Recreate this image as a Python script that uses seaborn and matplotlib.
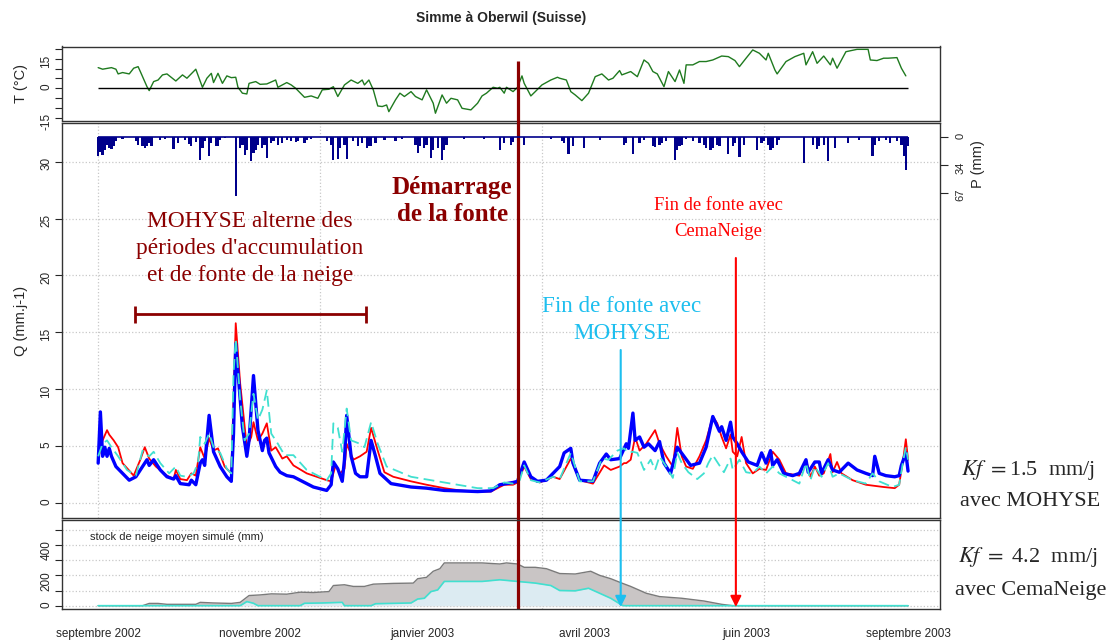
import matplotlib
matplotlib.use('Agg')
import matplotlib.pyplot as plt
import matplotlib.transforms as mtransforms
import seaborn as sns

FIG_W, FIG_H = 1120, 640

# x axis: day index 0..365 (sept 2002 -> sept 2003), labels at equal spacing
N_DAYS = 365
DATE_LABELS = ['septembre 2002', 'novembre 2002', 'janvier 2003',
               'avril 2003', 'juin 2003', 'septembre 2003']

# air temperature (deg C)
T_DAYS = [0, 2, 6, 8, 9, 11, 14, 16, 18, 19, 22, 23, 25, 27, 29, 31, 35, 38, 40, 44,
          47, 49, 51, 52, 54, 56, 58, 60, 62, 63, 65, 67, 68, 71, 73, 76, 80, 81, 85, 87,
          89, 93, 96, 99, 101, 104, 106, 108, 111, 114, 117, 119, 120, 122, 124, 126, 128,
          130, 131, 134, 136, 138, 141, 143, 146, 148, 151, 152, 155, 157, 159, 162, 164,
          168, 171, 173, 175, 178, 180, 181, 183, 184, 187, 189, 191, 192, 195, 197, 200,
          204, 207, 208, 211, 213, 215, 218, 221, 224, 227, 230, 232, 235, 236, 240, 243,
          246, 248, 250, 252, 255, 257, 260, 262, 264, 265, 268, 271, 274, 277, 281, 284,
          287, 289, 292, 295, 298, 301, 302, 305, 306, 310, 314, 318, 319, 322, 324, 327,
          330, 331, 333, 337, 342, 347, 348, 351, 354, 356, 360, 362, 364]
T_VALUES = [10.5, 9.7, 10.5, 9.7, 7.3, 8.0, 7.3, 10.2, 11.0, 8.5, 0.8, -1.2, 3.4, 4.2, 6.8,
            7.3, 3.7, 6.8, 5.1, 9.7, 0.5, 5.1, 7.6, 2.9, 7.6, 2.5, 6.3, 5.4, 5.6, 0.5, -2.5,
            -2.9, 2.5, 3.4, 2.0, 2.2, 4.2, 0.5, 2.9, 1.7, 0.0, -4.6, -3.9, -5.1, -0.8, -0.5,
            0.8, -4.2, 1.7, 4.2, 2.5, 4.2, 1.7, 4.2, -0.8, -9.0, -9.3, -8.5, -11.9, -5.9,
            -2.5, -4.2, -1.7, -4.2, -5.9, -0.8, -7.6, -12.7, -3.4, -7.6, -5.1, -5.9, -10.2,
            -11.0, -7.6, -3.9, -2.5, 0.5, 0.0, 0.5, -2.5, 0.5, -1.7, 0.5, 6.3, 2.5, -3.9,
            -1.7, 1.7, 4.2, 5.6, 5.1, 4.2, -1.7, -3.4, -6.3, -2.5, 5.9, 7.3, 4.2, 5.1, 9.0,
            6.8, 8.5, 5.9, 14.4, 12.7, 8.5, 7.3, 0.8, 8.5, 3.4, 9.3, 2.5, 11.9, 11.9, 13.6,
            13.6, 14.4, 16.4, 16.1, 14.1, 11.0, 15.3, 19.5, 17.8, 14.4, 17.8, 9.3, 7.3, 13.6,
            16.1, 17.8, 11.9, 18.6, 12.7, 16.4, 11.9, 15.3, 10.2, 18.6, 19.8, 19.8, 14.4,
            14.1, 15.3, 15.3, 15.6, 10.2, 6.3]

# daily precipitation (mm), non-zero days only
P_DAYS = [0, 1, 2, 3, 4, 5, 6, 7, 8, 11, 17, 18, 20, 21, 22, 23, 24, 28, 30, 34, 36, 39,
          41, 42, 44, 46, 47, 48, 50, 51, 53, 54, 55, 57, 62, 64, 65, 66, 67, 69, 70, 71,
          72, 74, 75, 76, 78, 79, 81, 83, 85, 87, 89, 90, 93, 94, 96, 103, 105, 106, 108,
          109, 111, 112, 115, 117, 119, 121, 122, 123, 125, 129, 134, 137, 143, 144, 145,
          147, 148, 150, 151, 153, 155, 156, 157, 165, 174, 181, 183, 186, 187, 192, 204,
          209, 210, 212, 214, 219, 226, 237, 238, 241, 244, 246, 250, 251, 253, 254, 256,
          260, 261, 262, 263, 265, 268, 271, 273, 274, 276, 277, 279, 280, 284, 286, 287,
          289, 291, 297, 299, 300, 302, 303, 304, 306, 307, 318, 322, 324, 325, 327, 329,
          332, 338, 343, 349, 350, 352, 355, 357, 360, 362, 363, 364, 365]
P_VALUES = [22, 18, 21, 15, 9, 13, 14, 10, 5, 2, 5, 9, 11, 13, 11, 7, 11, 3, 2, 14, 7, 3,
            8, 11, 6, 27, 13, 5, 22, 7, 10, 11, 3, 1, 71, 13, 9, 21, 15, 29, 19, 15, 9, 13,
            9, 25, 7, 5, 9, 7, 3, 5, 6, 5, 7, 3, 2, 5, 9, 27, 26, 13, 9, 26, 5, 11, 7, 13,
            11, 11, 7, 3, 5, 2, 9, 19, 11, 13, 9, 25, 15, 13, 28, 15, 9, 2, 2, 15, 7, 9, 6,
            9, 2, 5, 7, 20, 11, 13, 3, 9, 7, 20, 7, 3, 10, 12, 9, 7, 4, 27, 15, 11, 9, 2, 5,
            7, 9, 13, 15, 13, 9, 11, 20, 11, 7, 24, 9, 15, 7, 5, 9, 15, 13, 9, 3, 31, 9, 14,
            11, 9, 29, 13, 7, 3, 22, 9, 5, 3, 7, 5, 9, 23, 40, 11]
P_TICKS = [0, 34, 67]

# discharge (mm/j): observed (blue), CemaNeige (red), MOHYSE (turquoise)
QOBS_DAYS = [0, 1, 2, 3, 4, 5, 6, 8, 11, 14, 17, 20, 22, 23, 25, 28, 31, 34, 35, 37, 41,
             42, 44, 46, 47, 48, 50, 52, 55, 58, 60, 61, 62, 65, 67, 68, 70, 72, 74, 75,
             76, 77, 80, 82, 85, 88, 91, 97, 103, 105, 106, 108, 110, 111, 112, 114, 116,
             118, 121, 123, 125, 127, 132, 141, 148, 156, 163, 171, 177, 181, 184, 187,
             189, 192, 195, 198, 202, 205, 208, 210, 213, 214, 217, 223, 226, 229, 231,
             235, 238, 239, 241, 242, 244, 246, 248, 251, 253, 255, 258, 261, 264, 267,
             271, 274, 277, 280, 281, 283, 285, 286, 288, 290, 293, 297, 299, 301, 303,
             304, 306, 309, 313, 316, 319, 320, 323, 325, 326, 329, 331, 334, 338, 342,
             346, 349, 350, 352, 355, 359, 361, 362, 364, 365]
QOBS_VALUES = [3.5, 8.0, 4.1, 4.9, 4.1, 4.8, 4.1, 3.2, 2.6, 2.0, 2.3, 3.2, 3.8, 3.3, 3.8,
               2.9, 2.3, 2.1, 2.4, 1.7, 1.6, 2.0, 1.6, 3.5, 3.8, 3.3, 7.7, 4.5, 3.2, 2.3,
               1.9, 6.1, 14.0, 6.7, 4.1, 5.5, 11.2, 6.4, 4.6, 5.5, 5.7, 4.4, 3.2, 2.7, 2.4,
               2.3, 2.0, 1.4, 1.1, 1.6, 3.6, 3.0, 1.9, 3.8, 7.7, 4.1, 2.6, 2.3, 2.3, 5.5,
               4.1, 2.6, 1.7, 1.4, 1.3, 1.1, 1.06, 1.0, 1.06, 1.6, 1.7, 1.8, 1.9, 3.6, 2.3,
               1.9, 2.0, 2.6, 3.2, 4.4, 4.8, 3.5, 2.0, 1.9, 3.5, 4.3, 3.8, 3.9, 5.2, 4.8,
               7.9, 5.5, 5.8, 4.9, 5.2, 4.6, 5.4, 3.5, 2.6, 4.9, 4.1, 3.3, 3.5, 4.9, 7.6,
               6.3, 6.7, 5.5, 7.1, 5.8, 5.2, 4.5, 3.6, 3.3, 4.4, 3.5, 4.6, 3.3, 3.8, 2.6,
               2.4, 2.6, 3.8, 2.7, 3.6, 3.6, 2.6, 3.8, 2.9, 2.7, 3.5, 2.9, 2.6, 2.4, 4.1,
               2.6, 2.4, 2.3, 2.4, 3.3, 4.4, 2.8]
QCEMA_DAYS = [0, 2, 4, 5, 7, 9, 11, 16, 19, 21, 23, 26, 31, 34, 35, 37, 40, 42, 44, 46,
              48, 50, 52, 54, 57, 60, 61, 62, 64, 67, 69, 70, 72, 74, 76, 78, 80, 83, 85,
              88, 94, 103, 105, 107, 109, 111, 112, 115, 118, 121, 123, 126, 129, 133, 141,
              148, 156, 163, 171, 177, 180, 183, 187, 189, 192, 195, 199, 205, 208, 213,
              217, 223, 228, 231, 235, 237, 238, 240, 242, 244, 247, 251, 253, 256, 259,
              261, 263, 265, 268, 271, 274, 277, 279, 281, 283, 285, 286, 288, 290, 292,
              295, 298, 301, 304, 307, 310, 316, 319, 321, 323, 325, 327, 330, 331, 333,
              335, 340, 346, 354, 359, 361, 363, 364, 365]
QCEMA_VALUES = [3.9, 5.5, 6.4, 6.0, 5.5, 4.9, 3.5, 2.4, 3.8, 4.9, 3.9, 3.2, 2.4, 2.1, 2.9,
                2.1, 2.0, 2.6, 2.4, 4.9, 3.9, 5.7, 4.6, 4.8, 3.2, 2.6, 9.1, 15.8, 10.5, 4.9,
                5.8, 7.1, 5.5, 6.1, 7.0, 4.6, 4.9, 3.9, 4.1, 3.3, 2.6, 2.0, 1.9, 3.3, 2.6,
                3.0, 5.2, 3.8, 4.1, 4.5, 6.6, 4.6, 2.7, 2.3, 1.9, 1.6, 1.3, 1.1, 1.0, 1.0,
                1.3, 1.6, 1.6, 1.8, 3.2, 2.1, 1.8, 2.3, 2.1, 3.9, 2.0, 1.7, 3.3, 2.9, 3.2,
                3.5, 3.5, 3.8, 5.8, 4.6, 5.2, 6.4, 5.2, 4.1, 3.2, 6.6, 4.1, 3.2, 3.0, 4.1,
                5.5, 7.6, 7.0, 5.8, 4.8, 6.0, 4.5, 4.1, 5.8, 3.5, 2.6, 3.0, 2.9, 4.5, 3.8,
                2.6, 2.4, 3.8, 2.3, 3.2, 2.4, 2.6, 4.3, 2.7, 3.6, 2.6, 2.0, 1.6, 1.4, 1.3,
                1.6, 4.1, 5.6, 3.8]
QMOH_DAYS = [0, 2, 4, 6, 9, 13, 17, 20, 23, 25, 28, 32, 35, 37, 40, 43, 45, 46, 48, 50,
             52, 55, 58, 60, 61, 62, 64, 66, 68, 70, 72, 74, 76, 78, 81, 84, 88, 94, 103,
             105, 106, 108, 110, 112, 114, 118, 120, 123, 126, 130, 141, 156, 171, 178,
             183, 187, 190, 192, 195, 199, 205, 208, 213, 217, 223, 227, 230, 234, 237,
             239, 241, 243, 246, 249, 251, 253, 256, 259, 261, 263, 266, 270, 273, 275,
             277, 280, 282, 285, 286, 289, 292, 295, 298, 301, 304, 307, 312, 316, 319,
             321, 323, 326, 329, 331, 334, 340, 346, 349, 352, 358, 361, 363, 364, 365]
QMOH_VALUES = [4.1, 5.2, 5.5, 4.9, 4.1, 2.9, 2.4, 4.6, 4.1, 4.5, 3.5, 2.6, 3.2, 2.4, 2.3,
               2.6, 3.5, 5.8, 5.2, 6.1, 4.9, 4.4, 3.0, 2.6, 11.4, 14.4, 9.1, 5.5, 6.1, 9.6,
               7.3, 8.2, 9.9, 6.1, 5.2, 4.2, 4.2, 2.9, 2.0, 2.6, 7.0, 6.6, 4.5, 8.3, 5.5,
               5.2, 4.9, 7.1, 5.2, 3.2, 2.3, 1.8, 1.3, 1.3, 1.8, 1.7, 2.0, 3.3, 2.0, 1.8,
               2.3, 2.1, 4.4, 1.9, 1.9, 3.9, 3.8, 4.6, 4.8, 4.4, 4.5, 4.4, 2.9, 3.8, 2.9,
               4.1, 3.2, 2.2, 4.4, 3.5, 2.7, 2.1, 2.6, 3.5, 4.2, 3.3, 2.7, 3.9, 2.9, 3.8,
               2.7, 2.6, 3.2, 2.6, 3.2, 2.6, 2.1, 1.7, 3.5, 2.0, 3.2, 2.3, 3.5, 2.3, 2.6,
               2.0, 1.7, 2.6, 1.9, 1.4, 1.6, 3.9, 4.9, 3.8]

# mean simulated snow pack (mm)
SNOW_CEMA_DAYS = [0, 20, 23, 27, 31, 44, 46, 52, 60, 64, 68, 73, 78, 85, 91, 97, 104, 106,
                  111, 115, 120, 124, 133, 142, 144, 148, 151, 154, 156, 162, 173, 181,
                  184, 189, 192, 197, 202, 208, 215, 220, 222, 226, 231, 236, 240, 247,
                  253, 263, 273, 281, 286, 365]
SNOW_CEMA_VALUES = [0, 0, 15, 15, 9, 9, 22, 18, 15, 22, 67, 71, 78, 76, 89, 87, 93, 133,
                    138, 127, 127, 142, 147, 149, 178, 187, 227, 244, 282, 282, 282, 275,
                    282, 275, 253, 253, 244, 212, 209, 222, 227, 200, 178, 149, 127, 82,
                    60, 49, 31, 9, 0, 0]
SNOW_MOH_DAYS = [0, 64, 67, 70, 72, 91, 93, 101, 110, 111, 123, 125, 141, 144, 147, 150,
                 153, 156, 173, 181, 189, 197, 204, 208, 215, 221, 226, 231, 236, 237, 365]
SNOW_MOH_VALUES = [0, 0, 27, 16, 0, 0, 16, 18, 22, 0, 0, 13, 18, 44, 49, 93, 104, 160, 160,
                   171, 160, 149, 133, 100, 98, 115, 82, 49, 4, 0, 0]

# key dates (day index)
MELT_START = 189.3
MELT_END_MOHYSE = 235.5
MELT_END_CEMA = 287.4
ALTERNATION_PERIOD = (16.7, 120.8)

DARK_RED = '#8B0000'
SKY = '#1DBFEF'
NAVY = '#00008B'
SERIF = ['Liberation Serif', 'DejaVu Serif']


def _px_box(left, top, right, bottom):
    return [left / FIG_W, 1 - bottom / FIG_H, (right - left) / FIG_W, (bottom - top) / FIG_H]


def _fy(py):
    return 1 - py / FIG_H


def _style_axes(ax):
    for spine in ax.spines.values():
        spine.set_color('#333333')
        spine.set_linewidth(1.0)
    ax.tick_params(axis='y', which='both', direction='out', length=5, width=0.8,
                   labelsize=8.5, labelrotation=90, pad=2, left=True, right=False)
    ax.tick_params(axis='x', which='both', length=0, labelbottom=False)
    ax.set_xlim(-16.3, 379.4)
    ax.set_xticks([0, 100, 200, 300], minor=True)
    ax.set_xticks([])


def _plot_temperature(ax):
    sns.lineplot(x=T_DAYS, y=T_VALUES, ax=ax, color='#1F7A1F', linewidth=1.0, sort=False)
    ax.hlines(0, T_DAYS[0], N_DAYS, color='black', linewidth=1.0)
    ax.set_ylim(-16.4, 21.25)
    ax.set_yticks([-15, 0, 15])
    ax.set_yticks([-10, -5, 5, 10, 20], minor=True)
    ax.set_ylabel('T (°C)', fontsize=10.5, labelpad=9)


def _plot_discharge(ax):
    ax.grid(True, which='minor', axis='x', linestyle=':', color='#c8c8c8', linewidth=0.9)
    ax.grid(True, which='major', axis='y', linestyle=':', color='#c8c8c8', linewidth=0.9)
    sns.lineplot(x=QCEMA_DAYS, y=QCEMA_VALUES, ax=ax, color='#FF0000', linewidth=1.3, sort=False)
    sns.lineplot(x=QOBS_DAYS, y=QOBS_VALUES, ax=ax, color='#0000FF', linewidth=2.4, sort=False)
    sns.lineplot(x=QMOH_DAYS, y=QMOH_VALUES, ax=ax, color='#40E0D0', linewidth=1.3,
                 linestyle=(0, (6, 3)), sort=False)
    ax.set_ylim(-1.35, 33.4)
    ax.set_yticks(range(0, 31, 5))
    ax.set_ylabel('Q (mm.j-1)', fontsize=10.5, labelpad=9)

    axp = ax.twinx()
    axp.bar(P_DAYS, P_VALUES, width=1.0, color=NAVY, linewidth=0)
    axp.hlines(0, 0, N_DAYS, color=NAVY, linewidth=1.2)
    axp.set_ylim(460.7, -17.3)
    axp.set_yticks(P_TICKS)
    axp.tick_params(axis='y', direction='out', length=6, width=0.8, labelsize=8,
                    labelrotation=90, pad=5)
    for spine in axp.spines.values():
        spine.set_visible(False)
    axp.set_ylabel('P (mm)', fontsize=10.5)
    axp.yaxis.set_label_coords(1.035, 0.895)

    # annotations
    lo, hi = ALTERNATION_PERIOD
    ax.hlines(16.6, lo, hi, color=DARK_RED, linewidth=2.0)
    ax.vlines([lo, hi], 15.85, 17.35, color=DARK_RED, linewidth=2.0)
    ax.text(68.4, 22.4, "MOHYSE alterne des\npériodes d'accumulation\net de fonte de la neige",
            ha='center', va='center', fontsize=16.8, color=DARK_RED, family=SERIF,
            linespacing=1.38)
    ax.text(159.5, 26.55, 'Démarrage\nde la fonte', ha='center', va='center', fontsize=18,
            color=DARK_RED, family=SERIF, fontweight='bold', linespacing=1.25)
    ax.text(279.4, 25.0, 'Fin de fonte avec\nCemaNeige', ha='center', va='center',
            fontsize=13.4, color='#FF0000', family=SERIF, linespacing=1.75)
    ax.text(236.1, 16.1, 'Fin de fonte avec\nMOHYSE', ha='center', va='center',
            fontsize=16.6, color=SKY, family=SERIF, linespacing=1.38)


def _plot_snow(ax):
    ax.grid(True, which='minor', axis='x', linestyle=':', color='#c8c8c8', linewidth=0.9)
    ax.grid(True, which='both', axis='y', linestyle=':', color='#c8c8c8', linewidth=0.9)
    ax.fill_between(SNOW_CEMA_DAYS, SNOW_CEMA_VALUES, color='#C9C5C5', linewidth=0)
    sns.lineplot(x=SNOW_CEMA_DAYS, y=SNOW_CEMA_VALUES, ax=ax, color='#7A7A7A', linewidth=1.0,
                 sort=False)
    ax.fill_between(SNOW_MOH_DAYS, SNOW_MOH_VALUES, color='#DCEBF2', linewidth=0)
    sns.lineplot(x=SNOW_MOH_DAYS, y=SNOW_MOH_VALUES, ax=ax, color='#40E0D0', linewidth=1.2,
                 sort=False)
    ax.set_ylim(-21.8, 565)
    ax.set_yticks([0, 200, 400])
    ax.set_yticks([100, 300, 500], minor=True)
    ax.set_ylabel('')
    ticks = [N_DAYS * k / (len(DATE_LABELS) - 1) for k in range(len(DATE_LABELS))]
    ax.set_xticks(ticks)
    ax.set_xticklabels(DATE_LABELS)
    ax.tick_params(axis='x', which='major', length=6, width=0.8, direction='out',
                   labelbottom=True, labelsize=8.5, pad=8)
    ax.text(0.032, 0.81, 'stock de neige moyen simulé (mm)', transform=ax.transAxes,
            ha='left', va='center', fontsize=8)


def _plot_markers(fig, ax):
    blend = mtransforms.blended_transform_factory(ax.transData, fig.transFigure)
    ax.plot([MELT_START, MELT_START], [_fy(609), _fy(61)], transform=blend,
            color=DARK_RED, linewidth=2.3, clip_on=False, solid_capstyle='butt')
    for day, top, color in [(MELT_END_MOHYSE, 350, SKY), (MELT_END_CEMA, 258, '#FF0000')]:
        ax.annotate('', xy=(day, _fy(607)), xycoords=blend,
                    xytext=(day, _fy(top)), textcoords=blend,
                    arrowprops=dict(arrowstyle='-|>', color=color, lw=1.5,
                                    mutation_scale=16, shrinkA=0, shrinkB=0),
                    annotation_clip=False)


def main():
    sns.set_style('white')
    plt.rcParams['font.family'] = ['Liberation Sans', 'DejaVu Sans']
    plt.rcParams['mathtext.fontset'] = 'stix'
    plt.rcParams['axes.unicode_minus'] = False

    fig = plt.figure(figsize=(FIG_W / 100, FIG_H / 100), dpi=100)
    ax_t = fig.add_axes(_px_box(62, 46.5, 940, 120.5))
    ax_q = fig.add_axes(_px_box(62, 123, 940, 518.3))
    ax_s = fig.add_axes(_px_box(62, 520, 940, 609))
    for ax in (ax_t, ax_q, ax_s):
        _style_axes(ax)

    _plot_temperature(ax_t)
    _plot_discharge(ax_q)
    _plot_snow(ax_s)
    _plot_markers(fig, ax_s)

    fig.text(501 / FIG_W, _fy(18), 'Simme à Oberwil (Suisse)', ha='center', va='center',
             fontsize=10, fontweight='bold')
    for text, px, py in [(r'$Kf$ $=$1.5  mm/j', 1028, 470), ('avec MOHYSE', 1030, 502),
                         (r'$Kf$ $=$ 4.2  mm/j', 1028, 557), ('avec CemaNeige', 1031, 590)]:
        fig.text(px / FIG_W, _fy(py), text, ha='center', va='center', fontsize=16,
                 family=SERIF)

    fig.savefig('out.png', dpi=100)


if __name__ == '__main__':
    main()
